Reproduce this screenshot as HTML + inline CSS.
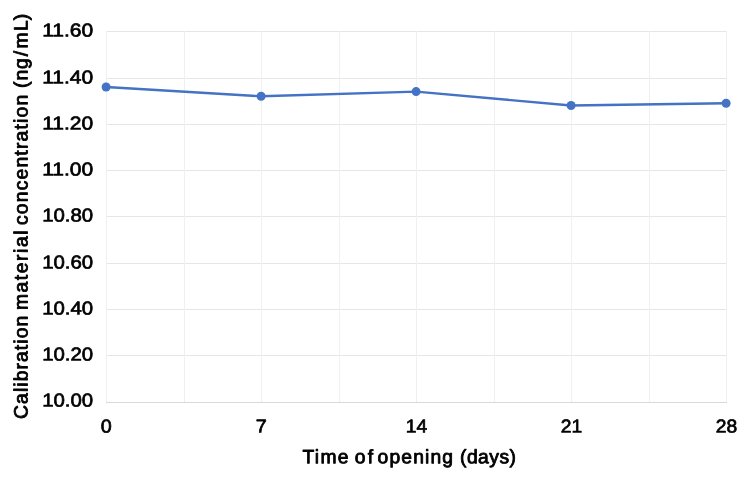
<!DOCTYPE html>
<html><head><meta charset="utf-8"><title>Chart</title>
<style>
html,body{margin:0;padding:0;background:#fff;}
body{width:750px;height:480px;overflow:hidden;}
svg{display:block;will-change:transform;}
text{font-family:"Liberation Sans",sans-serif;font-size:18.67px;fill:#000;stroke:#000;stroke-width:0.7px;stroke-linejoin:round;text-rendering:geometricPrecision;}
</style></head><body>
<svg width="750" height="480" viewBox="0 0 750 480">
<rect width="750" height="480" fill="#fff"/>
<g shape-rendering="crispEdges">
<rect x="106" y="31" width="621" height="1" fill="#e6e6e6"/>
<rect x="106" y="78" width="621" height="1" fill="#e6e6e6"/>
<rect x="106" y="124" width="621" height="1" fill="#e6e6e6"/>
<rect x="106" y="170" width="621" height="1" fill="#e6e6e6"/>
<rect x="106" y="216" width="621" height="1" fill="#e6e6e6"/>
<rect x="106" y="263" width="621" height="1" fill="#e6e6e6"/>
<rect x="106" y="309" width="621" height="1" fill="#e6e6e6"/>
<rect x="106" y="355" width="621" height="1" fill="#e6e6e6"/>
<rect x="106" y="31" width="1" height="372" fill="#f0f0f0"/>
<rect x="184" y="31" width="1" height="372" fill="#f0f0f0"/>
<rect x="261" y="31" width="1" height="372" fill="#f0f0f0"/>
<rect x="339" y="31" width="1" height="372" fill="#f0f0f0"/>
<rect x="416" y="31" width="1" height="372" fill="#f0f0f0"/>
<rect x="494" y="31" width="1" height="372" fill="#f0f0f0"/>
<rect x="571" y="31" width="1" height="372" fill="#f0f0f0"/>
<rect x="649" y="31" width="1" height="372" fill="#f0f0f0"/>
<rect x="726" y="31" width="1" height="372" fill="#f0f0f0"/>
<rect x="106" y="402" width="621" height="1" fill="#d9d9d9"/>
</g>
<polyline points="106.10,86.98 261.10,96.26 416.10,91.62 571.10,105.55 726.10,103.23" fill="none" stroke="#4472c4" stroke-width="2.4" stroke-linejoin="round" stroke-linecap="round"/>
<circle cx="106.10" cy="86.98" r="4.5" fill="#4472c4"/>
<circle cx="261.10" cy="96.26" r="4.5" fill="#4472c4"/>
<circle cx="416.10" cy="91.62" r="4.5" fill="#4472c4"/>
<circle cx="571.10" cy="105.55" r="4.5" fill="#4472c4"/>
<circle cx="726.10" cy="103.23" r="4.5" fill="#4472c4"/>
<text x="93.20" y="36.50" transform="rotate(0.05 93.20 36.50)" text-anchor="end" textLength="51.00" lengthAdjust="spacingAndGlyphs">11.60</text>
<text x="93.20" y="83.50" transform="rotate(0.05 93.20 83.50)" text-anchor="end" textLength="51.00" lengthAdjust="spacingAndGlyphs">11.40</text>
<text x="93.20" y="129.50" transform="rotate(0.05 93.20 129.50)" text-anchor="end" textLength="51.00" lengthAdjust="spacingAndGlyphs">11.20</text>
<text x="93.20" y="175.50" transform="rotate(0.05 93.20 175.50)" text-anchor="end" textLength="51.00" lengthAdjust="spacingAndGlyphs">11.00</text>
<text x="93.20" y="221.50" transform="rotate(0.05 93.20 221.50)" text-anchor="end" textLength="51.00" lengthAdjust="spacingAndGlyphs">10.80</text>
<text x="93.20" y="268.50" transform="rotate(0.05 93.20 268.50)" text-anchor="end" textLength="51.00" lengthAdjust="spacingAndGlyphs">10.60</text>
<text x="93.20" y="314.50" transform="rotate(0.05 93.20 314.50)" text-anchor="end" textLength="51.00" lengthAdjust="spacingAndGlyphs">10.40</text>
<text x="93.20" y="360.50" transform="rotate(0.05 93.20 360.50)" text-anchor="end" textLength="51.00" lengthAdjust="spacingAndGlyphs">10.20</text>
<text x="93.20" y="406.50" transform="rotate(0.05 93.20 406.50)" text-anchor="end" textLength="51.00" lengthAdjust="spacingAndGlyphs">10.00</text>
<text x="106.20" y="432.60" transform="rotate(0.05 106.20 432.60)" text-anchor="middle" textLength="11.00" lengthAdjust="spacingAndGlyphs">0</text>
<text x="261.20" y="432.60" transform="rotate(0.05 261.20 432.60)" text-anchor="middle" textLength="11.00" lengthAdjust="spacingAndGlyphs">7</text>
<text x="416.40" y="432.60" transform="rotate(0.05 416.40 432.60)" text-anchor="middle" textLength="21.40" lengthAdjust="spacingAndGlyphs">14</text>
<text x="571.40" y="432.60" transform="rotate(0.05 571.40 432.60)" text-anchor="middle" textLength="21.40" lengthAdjust="spacingAndGlyphs">21</text>
<text x="726.40" y="432.60" transform="rotate(0.05 726.40 432.60)" text-anchor="middle" textLength="21.40" lengthAdjust="spacingAndGlyphs">28</text>
<text x="302.40" y="463.30" transform="rotate(0.05 302.40 463.30)" textLength="46.20" lengthAdjust="spacing" style="font-size:19.3px;stroke-width:0.85px">Time</text>
<text x="354.80" y="463.30" transform="rotate(0.05 354.80 463.30)" textLength="18.40" lengthAdjust="spacing" style="font-size:19.3px;stroke-width:0.85px">of</text>
<text x="377.60" y="463.30" transform="rotate(0.05 377.60 463.30)" textLength="75.40" lengthAdjust="spacing" style="font-size:19.3px;stroke-width:0.85px">opening</text>
<text x="460.00" y="463.30" transform="rotate(0.05 460.00 463.30)" textLength="56.00" lengthAdjust="spacing" style="font-size:19.3px;stroke-width:0.85px">(days)</text>
<text x="27.40" y="418.90" transform="rotate(-89.95 27.40 418.90)" textLength="103.10" lengthAdjust="spacing" style="font-size:19.3px;stroke-width:0.85px">Calibration</text>
<text x="27.40" y="310.10" transform="rotate(-89.95 27.40 310.10)" textLength="79.60" lengthAdjust="spacing" style="font-size:19.3px;stroke-width:0.85px">material</text>
<text x="27.40" y="225.10" transform="rotate(-89.95 27.40 225.10)" textLength="130.40" lengthAdjust="spacing" style="font-size:19.3px;stroke-width:0.85px">concentration</text>
<text x="27.40 34.90 46.40 59.20 66.90 84.50 95.10" y="88.00" transform="rotate(-89.95 27.40 88.00)" style="font-size:19.3px;stroke-width:0.85px">(ng/mL)</text>
</svg>
</body></html>
